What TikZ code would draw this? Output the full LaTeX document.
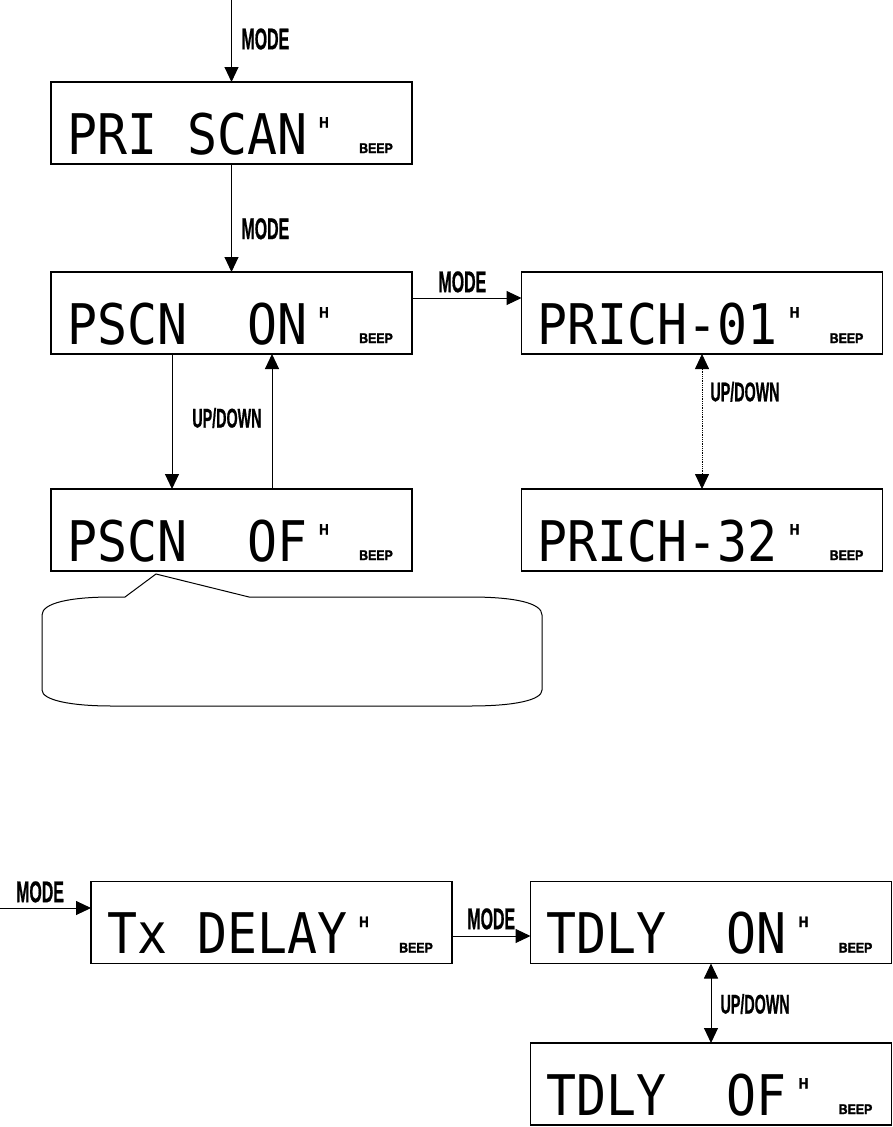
\documentclass[tikz,border=0pt]{standalone}
\usepackage{fontspec}
\newfontfamily\lcdfont[FakeStretch=0.89]{DejaVu Sans Mono}
\newfontfamily\tagfont[FakeStretch=0.53,FakeBold=0.6]{Liberation Sans Bold}
\newfontfamily\beepfont[FakeStretch=0.88,FakeBold=1.8]{Liberation Sans Bold}
\usetikzlibrary{arrows.meta}

\begin{document}
\begin{tikzpicture}[x=1pt,y=-1pt,
    >={Triangle[width=14pt,length=15pt]},
    panel/.style={draw,line width=1.4pt,minimum width=361pt,minimum height=82pt,inner sep=0pt,outer sep=0pt},
    lcd/.style={font=\lcdfont\fontsize{56}{56}\selectfont,inner sep=0pt,anchor=base west},
    hmark/.style={font=\beepfont\fontsize{15}{15}\selectfont,inner sep=0pt,anchor=north west},
    beep/.style={font=\beepfont\fontsize{14}{14}\selectfont,inner sep=0pt,anchor=base east},
    modekey/.style={font=\tagfont\fontsize{30}{30}\selectfont,inner sep=0pt},
    udkey/.style={font=\tagfont\fontsize{27}{27}\selectfont,inner sep=0pt},
    wire/.style={->,line width=1pt}]
  \useasboundingbox (0,0) rectangle (893,1127);

  % priority scan displays
  \node[panel] (b1) at (231.5,123) {};
  \node[lcd] (b1t) at ([shift={(16pt,10pt)}]b1.south west) {PRI SCAN};
  \node[hmark] (b1h) at ([shift={(268pt,-35pt)}]b1.north west) {H};
  \node[beep] (b1b) at ([shift={(-19pt,11pt)}]b1.south east) {BEEP};

  \node[panel] (b2) at (231.5,313) {};
  \node[lcd] (b2t) at ([shift={(16pt,10pt)}]b2.south west) {PSCN~~ON};
  \node[hmark] (b2h) at ([shift={(268pt,-35pt)}]b2.north west) {H};
  \node[beep] (b2b) at ([shift={(-19pt,11pt)}]b2.south east) {BEEP};

  \node[panel] (b3) at (702,313) {};
  \node[lcd] (b3t) at ([shift={(16pt,10pt)}]b3.south west) {PRICH-01};
  \node[hmark] (b3h) at ([shift={(268pt,-35pt)}]b3.north west) {H};
  \node[beep] (b3b) at ([shift={(-19pt,11pt)}]b3.south east) {BEEP};

  \node[panel] (b4) at (702,530) {};
  \node[lcd] (b4t) at ([shift={(16pt,10pt)}]b4.south west) {PRICH-32};
  \node[hmark] (b4h) at ([shift={(268pt,-35pt)}]b4.north west) {H};
  \node[beep] (b4b) at ([shift={(-19pt,11pt)}]b4.south east) {BEEP};

  \node[panel] (b5) at (231.5,530) {};
  \node[lcd] (b5t) at ([shift={(16pt,10pt)}]b5.south west) {PSCN~~OF};
  \node[hmark] (b5h) at ([shift={(268pt,-35pt)}]b5.north west) {H};
  \node[beep] (b5b) at ([shift={(-19pt,11pt)}]b5.south east) {BEEP};

  % tx delay displays
  \node[panel] (b6) at (271.5,922.5) {};
  \node[lcd] (b6t) at ([shift={(16pt,10pt)}]b6.south west) {Tx DELAY};
  \node[hmark] (b6h) at ([shift={(268pt,-35pt)}]b6.north west) {H};
  \node[beep] (b6b) at ([shift={(-19pt,11pt)}]b6.south east) {BEEP};

  \node[panel] (b7) at (711,922.5) {};
  \node[lcd] (b7t) at ([shift={(16pt,10pt)}]b7.south west) {TDLY~~ON};
  \node[hmark] (b7h) at ([shift={(268pt,-35pt)}]b7.north west) {H};
  \node[beep] (b7b) at ([shift={(-19pt,11pt)}]b7.south east) {BEEP};

  \node[panel] (b8) at (711,1084) {};
  \node[lcd] (b8t) at ([shift={(16pt,10pt)}]b8.south west) {TDLY~~OF};
  \node[hmark] (b8h) at ([shift={(268pt,-35pt)}]b8.north west) {H};
  \node[beep] (b8b) at ([shift={(-19pt,11pt)}]b8.south east) {BEEP};

  % connectors
  \coordinate (in1) at (231.5,0);
  \draw[wire] (in1) -- node[modekey,anchor=west,xshift=9.5pt,pos=0.476] (m1) {MODE} (b1);
  \draw[wire] (b1) -- node[modekey,anchor=west,xshift=9.5pt,pos=0.6] (m2) {MODE} (b2);
  \draw[wire] ([yshift=15pt]b2.east) -- node[modekey,anchor=south,yshift=5pt,pos=0.46] (m3) {MODE} ([yshift=15pt]b3.west);
  \draw[wire] ([xshift=-59.5pt]b2.south) -- ([xshift=-59.5pt]b5.north);
  \draw[wire] ([xshift=40.5pt]b5.north) -- node[udkey,anchor=east,xshift=-10pt,pos=0.526] (u1) {UP/DOWN} ([xshift=40.5pt]b2.south);
  \draw[<->,line width=0.8pt,densely dotted] (b3) -- node[udkey,anchor=west,xshift=8pt,pos=0.28] (u2) {UP/DOWN} (b4);

  \coordinate (in2) at (0,908);
  \draw[wire] (in2) -- node[modekey,anchor=south,yshift=5pt,pos=0.44] (m4) {MODE} ([yshift=14.5pt]b6.west);
  \draw[wire] ([yshift=-13.5pt]b6.east) -- node[modekey,anchor=south,yshift=6pt,pos=0.5] (m5) {MODE} ([yshift=-13.5pt]b7.west);
  \draw[<->,line width=1pt] (b7) -- node[udkey,anchor=west,xshift=9pt,pos=0.51] (u3) {UP/DOWN} (b8);

  % empty callout under PSCN OF
  \draw[line width=1pt] (125,597) -- (156,574) -- (249,597) -- (470,597)
    .. controls (515,597) and (542,603) .. (542,615) -- (542,690)
    .. controls (542,700) and (515,706) .. (470,706) -- (112,706)
    .. controls (70,706) and (42,700) .. (42,690) -- (42,615)
    .. controls (42,603) and (70,597) .. (112,597) -- cycle;
\end{tikzpicture}
\end{document}
